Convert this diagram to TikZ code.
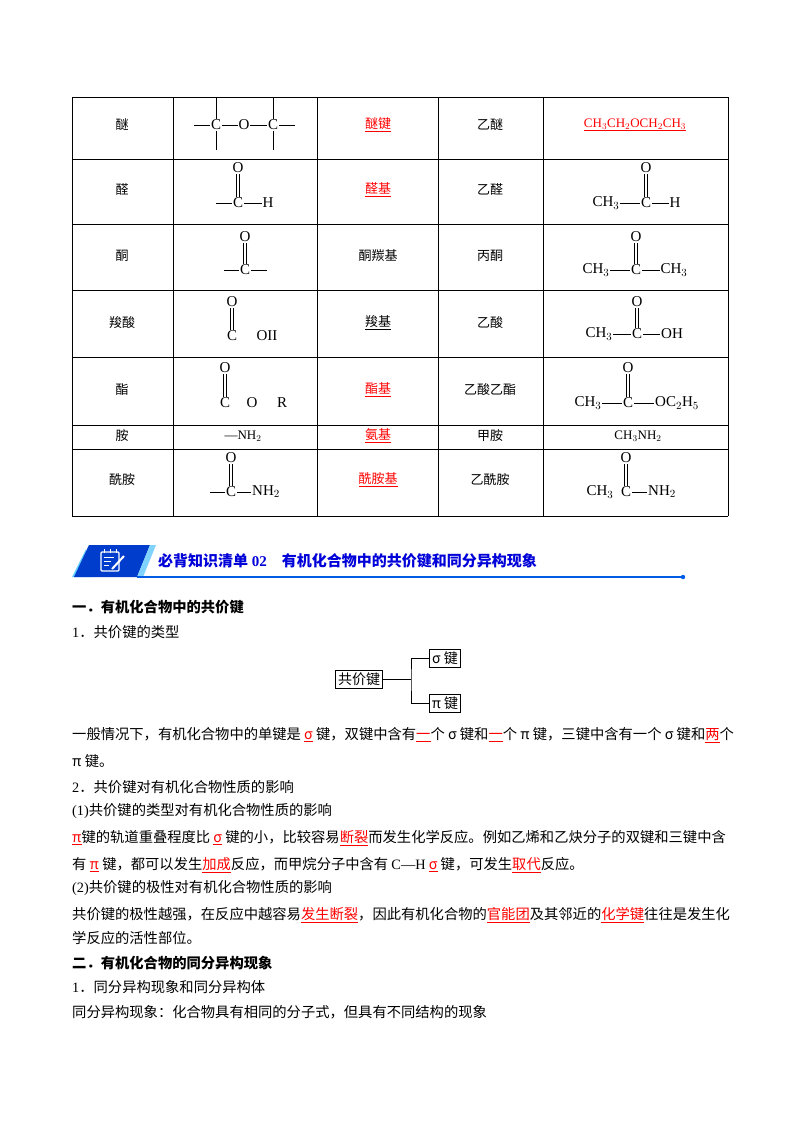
\documentclass[tikz,border=0pt]{standalone}
\usepackage{fontspec}
\setmainfont{Noto Sans CJK SC}
\newfontfamily\ls{Liberation Serif}
\newcommand\ru[1]{\textcolor{red}{\underline{#1}}}
\begin{document}
\begin{tikzpicture}[x=1pt,y=-1pt,
  fm/.style={font=\ls\fontsize{15}{15}\selectfont,inner sep=0.8pt},
  tc/.style={font=\fontsize{13}{13}\selectfont,inner sep=1pt},
  pl/.style={font=\fontsize{14.3}{15}\selectfont,anchor=west,inner sep=0pt},
  bx/.style={draw,thick,font=\fontsize{14}{15}\selectfont,inner sep=2.5pt},
  bd/.style={line width=0.6pt}]
\useasboundingbox[fill=white] (0,0) rectangle (800,1132);
% table grid
\foreach \y in {97,159,224,290,357,425,449,516} \draw[line width=0.8pt] (72,\y) -- (728,\y);
\foreach \x in {72,173,317,438,543,728} \draw[line width=0.8pt] (\x,97) -- (\x,516);
% column 1
\node[tc] (a1) at (122,125) {醚};
\node[tc] (a2) at (122,190) {醛};
\node[tc] (a3) at (122,256) {酮};
\node[tc] (a4) at (122,323) {羧酸};
\node[tc] (a5) at (122,390) {酯};
\node[tc] (a6) at (122,436) {胺};
\node[tc] (a7) at (122,480) {酰胺};
% column 3
\node[tc] (c1) at (378,125) {\ru{醚键}};
\node[tc] (c2) at (378,190) {\ru{醛基}};
\node[tc] (c3) at (378,256) {酮羰基};
\node[tc] (c4) at (378,323) {\underline{羧基}};
\node[tc] (c5) at (378,390) {\ru{酯基}};
\node[tc] (c6) at (378,436) {\ru{氨基}};
\node[tc] (c7) at (378,480) {\ru{酰胺基}};
% column 4
\node[tc] (d1) at (490,125) {乙醚};
\node[tc] (d2) at (490,190) {乙醛};
\node[tc] (d3) at (490,256) {丙酮};
\node[tc] (d4) at (490,323) {乙酸};
\node[tc] (d5) at (490,390) {乙酸乙酯};
\node[tc] (d6) at (490,436) {甲胺};
\node[tc] (d7) at (490,480) {乙酰胺};
% ether
\node[fm] (e1) at (216,125) {C};
\node[fm] (eo) at (244,125) {O};
\node[fm] (e2) at (273,125) {C};
\coordinate (el) at (194,125); \coordinate (er) at (295,125);
\draw[bd] (el)--(e1) (e1)--(eo) (eo)--(e2) (e2)--(er);
\coordinate (e1t) at (216,98); \coordinate (e1b) at (216,150);
\coordinate (e2t) at (273,98); \coordinate (e2b) at (273,150);
\draw[bd] (e1t)--(e1) (e1)--(e1b) (e2t)--(e2) (e2)--(e2b);
\node[font=\ls\fontsize{13}{13}\selectfont] (f1) at (635,125) {\ru{CH$_3$CH$_2$OCH$_2$CH$_3$}};
% aldehyde
\node[fm] (ho) at (238,168) {O};
\node[fm] (hc) at (238,203) {C};
\node[fm] (hh) at (268,203) {H};
\coordinate (hl) at (216,203);
\draw[bd] (hl)--(hc) (hc)--(hh);
\draw[bd] ([xshift=-1.3]ho.south)--([xshift=-1.3]hc.north) ([xshift=1.3]ho.south)--([xshift=1.3]hc.north);
\node[fm] (f2o) at (646,168) {O};
\node[fm] (f2m) at (606,203) {CH$_3$};
\node[fm] (f2c) at (646,203) {C};
\node[fm] (f2h) at (675,203) {H};
\draw[bd] (f2m)--(f2c) (f2c)--(f2h);
\draw[bd] ([xshift=-1.3]f2o.south)--([xshift=-1.3]f2c.north) ([xshift=1.3]f2o.south)--([xshift=1.3]f2c.north);
% ketone
\node[fm] (ko) at (245,237) {O};
\node[fm] (kc) at (245,270) {C};
\coordinate (kl) at (224,270); \coordinate (kr) at (267,270);
\draw[bd] (kl)--(kc) (kc)--(kr);
\draw[bd] ([xshift=-1.3]ko.south)--([xshift=-1.3]kc.north) ([xshift=1.3]ko.south)--([xshift=1.3]kc.north);
\node[fm] (f3o) at (636,237) {O};
\node[fm] (f3m) at (596,270) {CH$_3$};
\node[fm] (f3c) at (636,270) {C};
\node[fm] (f3n) at (674,270) {CH$_3$};
\draw[bd] (f3m)--(f3c) (f3c)--(f3n);
\draw[bd] ([xshift=-1.3]f3o.south)--([xshift=-1.3]f3c.north) ([xshift=1.3]f3o.south)--([xshift=1.3]f3c.north);
% carboxylic acid
\node[fm] (ao) at (232,302) {O};
\node[fm] (ac) at (232,336) {C};
\node[fm] (ah) at (267,336) {OII};
\draw[bd] ([xshift=-1.3]ao.south)--([xshift=-1.3]ac.north) ([xshift=1.3]ao.south)--([xshift=1.3]ac.north);
\node[fm] (f4o) at (637,302) {O};
\node[fm] (f4m) at (599,334) {CH$_3$};
\node[fm] (f4c) at (637,334) {C};
\node[fm] (f4h) at (672,334) {OH};
\draw[bd] (f4m)--(f4c) (f4c)--(f4h);
\draw[bd] ([xshift=-1.3]f4o.south)--([xshift=-1.3]f4c.north) ([xshift=1.3]f4o.south)--([xshift=1.3]f4c.north);
% ester
\node[fm] (so) at (225,368) {O};
\node[fm] (sc) at (225,403) {C};
\node[fm] (s2) at (252,403) {O};
\node[fm] (sr) at (282,403) {R};
\draw[bd] ([xshift=-1.3]so.south)--([xshift=-1.3]sc.north) ([xshift=1.3]so.south)--([xshift=1.3]sc.north);
\node[fm] (f5o) at (628,368) {O};
\node[fm] (f5m) at (588,403) {CH$_3$};
\node[fm] (f5c) at (628,403) {C};
\node[fm] (f5r) at (677,403) {OC$_2$H$_5$};
\draw[bd] (f5m)--(f5c) (f5c)--(f5r);
\draw[bd] ([xshift=-1.3]f5o.south)--([xshift=-1.3]f5c.north) ([xshift=1.3]f5o.south)--([xshift=1.3]f5c.north);
% amine
\node[font=\ls\fontsize{13}{13}\selectfont] (b6) at (243,436) {—NH$_2$};
\node[font=\ls\fontsize{13}{13}\selectfont] (f6) at (638,436) {CH$_3$NH$_2$};
% amide
\node[fm] (mo) at (231,458) {O};
\node[fm] (mc) at (231,492) {C};
\node[fm] (mn) at (266,492) {NH$_2$};
\coordinate (ml) at (210,492);
\draw[bd] (ml)--(mc) (mc)--(mn);
\draw[bd] ([xshift=-1.3]mo.south)--([xshift=-1.3]mc.north) ([xshift=1.3]mo.south)--([xshift=1.3]mc.north);
\node[fm] (f7o) at (626,458) {O};
\node[fm] (f7m) at (600,492) {CH$_3$};
\node[fm] (f7c) at (626,492) {C};
\node[fm] (f7n) at (662,492) {NH$_2$};
\draw[bd] (f7c)--(f7n);
\draw[bd] ([xshift=-1.3]f7o.south)--([xshift=-1.3]f7c.north) ([xshift=1.3]f7o.south)--([xshift=1.3]f7c.north);
% banner
\fill[blue!30!cyan!60] (72,577) -- (86,549) -- (92,577) -- cycle;
\fill[blue!70!cyan!80!black] (89,545) -- (150,545) -- (137,577) -- (74,577) -- cycle;
\fill[blue!35!cyan!50] (150,545) -- (156,545) -- (143,577) -- (137,577) -- cycle;
\draw[white,line width=1.3pt,rounded corners=1pt] (101,552) rectangle (119,571);
\draw[white,line width=1pt] (104,557)--(114,557) (104,561)--(111,561) (104,565)--(109,565);
\draw[white,line width=2pt] (112,569)--(124,556);
\draw[white,line width=1pt] (104,549)--(104,553) (110,549)--(110,553) (116,549)--(116,553);
\draw[blue!60!cyan!90!black,line width=1.6pt] (137,577) -- (683,577);
\fill[blue!60!cyan!90!black] (683,577) circle (2.2);
\node[anchor=west,inner sep=0pt,text=blue!85!black,font=\bfseries\fontsize{15}{15}\selectfont] (ttl) at (158,561) {必背知识清单{\ls\bfseries\ 02}\quad 有机化合物中的共价键和同分异构现象};
% section 1
\node[pl,font=\bfseries\fontsize{14.3}{15}\selectfont] (h1) at (72,607) {一．有机化合物中的共价键};
\node[pl] (p1) at (72,632) {{\ls 1}．共价键的类型};
\node[bx] (k) at (359,679) {共价键};
\node[bx] (ks) at (445,658) {σ 键};
\node[bx] (kp) at (445,703) {π 键};
\coordinate (jn) at (411,679);
\draw[thick] (k.east) -- (jn);
\draw[thick] (ks.west) -| (jn) |- (kp.west);
\node[pl] (p2) at (72,735) {一般情况下，有机化合物中的单键是 \ru{σ} 键，双键中含有\ru{一}个 σ 键和\ru{一}个 π 键，三键中含有一个 σ 键和\ru{两}个};
\node[pl] (p3) at (72,761) {π 键。};
\node[pl] (p4) at (72,787) {{\ls 2}．共价键对有机化合物性质的影响};
\node[pl] (p5) at (72,811) {{\ls (1)}共价键的类型对有机化合物性质的影响};
\node[pl] (p6) at (72,838) {\ru{π}键的轨道重叠程度比 \ru{σ} 键的小，比较容易\ru{断裂}而发生化学反应。例如乙烯和乙炔分子的双键和三键中含};
\node[pl] (p7) at (72,865) {有 \ru{π} 键，都可以发生\ru{加成}反应，而甲烷分子中含有 {\ls C—H} \ru{σ} 键，可发生\ru{取代}反应。};
\node[pl] (p8) at (72,888) {{\ls (2)}共价键的极性对有机化合物性质的影响};
\node[pl] (p9) at (72,915) {共价键的极性越强，在反应中越容易\ru{发生断裂}，因此有机化合物的\ru{官能团}及其邻近的\ru{化学键}往往是发生化};
\node[pl] (p10) at (72,938) {学反应的活性部位。};
\node[pl,font=\bfseries\fontsize{14.3}{15}\selectfont] (h2) at (72,963) {二．有机化合物的同分异构现象};
\node[pl] (p11) at (72,987) {{\ls 1}．同分异构现象和同分异构体};
\node[pl] (p12) at (72,1012) {同分异构现象：化合物具有相同的分子式，但具有不同结构的现象};
\end{tikzpicture}
\end{document}
